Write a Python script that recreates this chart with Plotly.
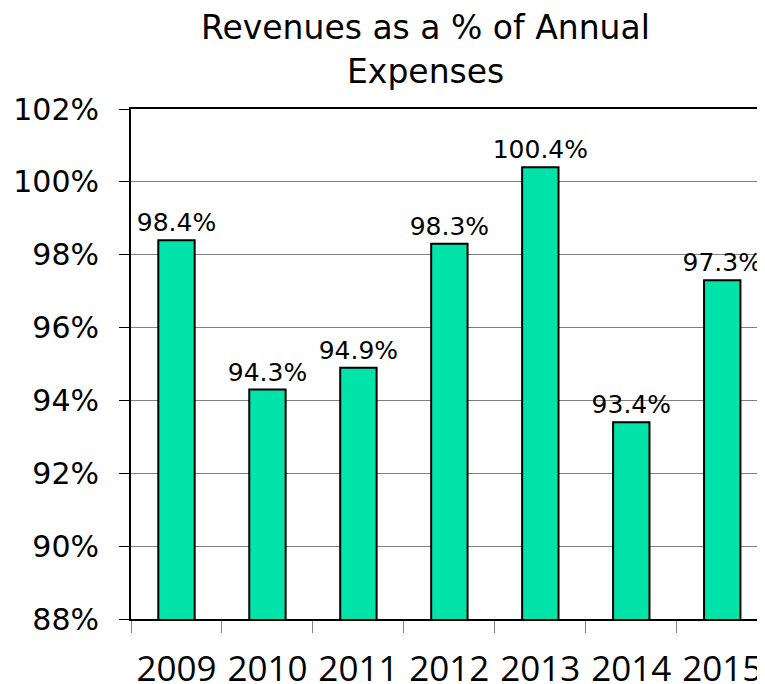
import plotly.graph_objects as go

years = ["2009", "2010", "2011", "2012", "2013", "2014", "2015"]
values = [98.4, 94.3, 94.9, 98.3, 100.4, 93.4, 97.3]
labels = [f"{v:.1f}%" for v in values]
y_ticks = [88, 90, 92, 94, 96, 98, 100, 102]
y_tick_text = [f"{t}%" for t in y_ticks]
title_lines = ["Revenues as a % of Annual", "Expenses"]

FONT = "DejaVu Sans"
XFONT = "Open Sans"

# page body has an 8px default margin, so the figure is sized to fill the rest
fig = go.Figure(go.Bar(
    x=years, y=values, base=0,
    width=0.4,
    marker=dict(color="#00E3A9", line=dict(color="black", width=2)),
    text=labels, textposition="outside", cliponaxis=False,
    constraintext="none",
    textfont=dict(family=FONT, size=25, color="black"),
    hoverinfo="skip",
))

title_ann = []
for line, shift in zip(title_lines, [60, 16]):
    title_ann.append(dict(
        text=line, showarrow=False,
        xref="paper", yref="paper",
        x=(425 - 131) / 634, y=1.0, yshift=shift,
        xanchor="center", yanchor="bottom",
        font=dict(family=FONT, size=33, color="black"),
    ))

fig.update_layout(
    width=757, height=676,
    margin=dict(l=123, r=0, t=101, b=65, autoexpand=False),
    paper_bgcolor="white", plot_bgcolor="white",
    showlegend=False,
    bargap=0.6,
    annotations=title_ann,
)

fig.update_xaxes(
    type="category",
    range=[-0.5, 6.47],
    automargin=False,
    showline=True, linecolor="black", linewidth=2, mirror=True,
    ticks="outside", tickson="boundaries", ticklen=12, tickcolor="#808080", tickwidth=1,
    tickfont=dict(family=XFONT, size=35, color="black"),
    ticklabelstandoff=18,
    showgrid=False,
)
fig.update_yaxes(
    range=[88, 102],
    automargin=False,
    tickvals=y_ticks, ticktext=y_tick_text,
    showline=True, linecolor="black", linewidth=2,
    ticks="outside", ticklen=10, tickcolor="black", tickwidth=1,
    tickfont=dict(family=FONT, size=30, color="black"),
    ticklabelstandoff=14,
    showgrid=True, gridcolor="#808080", gridwidth=1,
    zeroline=False,
)

fig.write_html("out.html")
